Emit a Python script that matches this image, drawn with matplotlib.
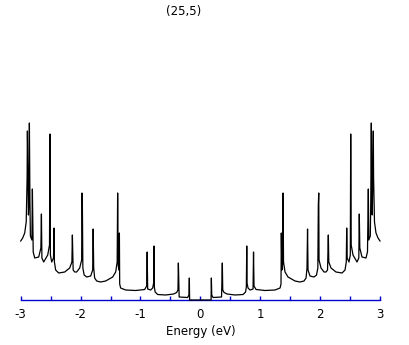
import numpy as np
import matplotlib
matplotlib.use("Agg")
import matplotlib.pyplot as plt
from matplotlib.ticker import MultipleLocator

plt.rcParams['axes.unicode_minus'] = False
plt.rcParams['font.family'] = ['DejaVu Sans']

title = "(25,5)"
xlabel = "Energy (eV)"

# DOS vertices for E >= 0 (arbitrary units); the curve is symmetric
energy_pos = [0.0, 0.179, 0.184, 0.190, 0.212, 0.354, 0.367, 0.374, 0.396, 0.446,
              0.579, 0.713, 0.755, 0.768, 0.771, 0.775, 0.780, 0.796, 0.830, 0.880,
              0.888, 0.896, 0.930, 1.080, 1.247, 1.331, 1.347, 1.352, 1.361, 1.372,
              1.381, 1.389, 1.414, 1.464, 1.581, 1.664, 1.731, 1.765, 1.781, 1.790,
              1.798, 1.831, 1.898, 1.940, 1.962, 1.970, 1.977, 1.982, 2.015, 2.065,
              2.098, 2.124, 2.137, 2.145, 2.182, 2.265, 2.366, 2.416, 2.437, 2.444,
              2.452, 2.482, 2.504, 2.511, 2.519, 2.549, 2.616, 2.646, 2.654, 2.663,
              2.699, 2.766, 2.791, 2.805, 2.813, 2.838, 2.846, 2.855, 2.863, 2.871,
              2.888, 2.893, 2.908, 2.933, 2.967, 3.0]
dos_pos = [0.0, 0.0, 0.22, 0.05, 0.025, 0.03, 0.37, 0.10, 0.075, 0.06,
           0.05, 0.055, 0.08, 0.13, 0.28, 0.54, 0.17, 0.12, 0.10, 0.11,
           0.48, 0.14, 0.105, 0.095, 0.10, 0.12, 0.16, 0.67, 0.30, 0.35,
           1.07, 0.38, 0.28, 0.23, 0.19, 0.18, 0.19, 0.22, 0.32, 0.71,
           0.30, 0.24, 0.23, 0.25, 0.32, 0.95, 1.07, 0.40, 0.32, 0.28,
           0.28, 0.30, 0.65, 0.38, 0.32, 0.28, 0.27, 0.30, 0.38, 0.72,
           0.42, 0.38, 0.45, 1.66, 0.55, 0.45, 0.38, 0.42, 0.86, 0.52,
           0.43, 0.42, 0.48, 1.11, 0.60, 0.64, 1.00, 1.77, 0.95, 0.85,
           1.69, 1.22, 0.78, 0.67, 0.62, 0.59]

e_pos = np.array(energy_pos)
d_pos = np.array(dos_pos)
energy = np.concatenate([-e_pos[:0:-1], e_pos])
dos = np.concatenate([d_pos[:0:-1], d_pos])

fig = plt.figure(figsize=(4.09, 3.45), dpi=100)
ax = fig.add_axes([20.7 / 409, 45 / 345, 359.3 / 409, 280 / 345])

ax.plot(energy, dos, color='black', lw=0.9, zorder=3, clip_on=False)

ax.set_xlim(-3, 3)
ax.set_ylim(0, 2.8)
for s in ['top', 'right', 'left']:
    ax.spines[s].set_visible(False)
ax.spines['bottom'].set_color('#0000cc')
ax.spines['bottom'].set_linewidth(1.0)
ax.set_yticks([])
ax.xaxis.set_major_locator(MultipleLocator(1))
ax.xaxis.set_minor_locator(MultipleLocator(0.5))
ax.tick_params(axis='x', which='both', direction='in', length=3, width=1,
               color='#0000cc', labelcolor='black', labelsize=8.5, pad=6)
ax.set_xlabel(xlabel, fontsize=8.5, labelpad=3)

fig.text(184 / 409, 1 - 12 / 345, title, ha='center', va='center', fontsize=8.5)

fig.savefig("out.png", dpi=100)
